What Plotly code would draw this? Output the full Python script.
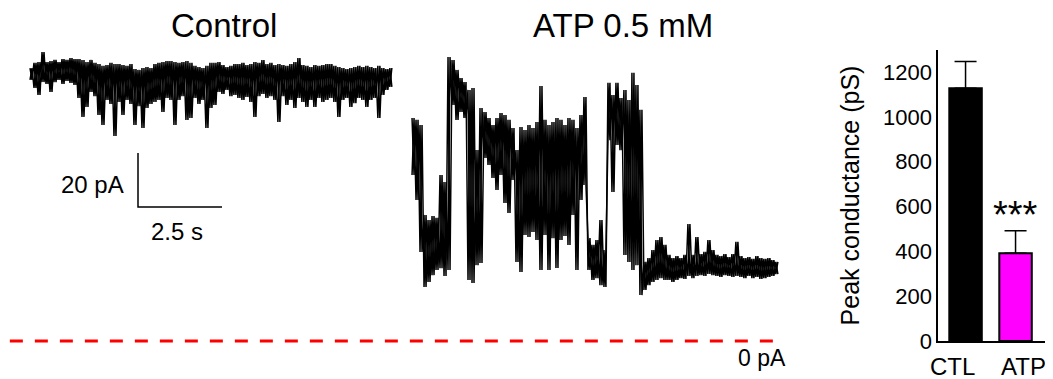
import plotly.graph_objects as go

# ---------------- data ----------------
# Current recordings summarised as an envelope: for every sample the upper
# (HI) and lower (LO) current value in pA, samples SAMPLE_DT seconds apart.
SAMPLE_DT = 0.119          # s between envelope samples
CONTROL_START = 0.0        # s
ATP_START = 11.37          # s

CONTROL_HI = [101.1, 103.0, 103.3, 107.0, 103.3, 103.7, 104.1, 103.3, 104.4, 104.1,
              104.8, 104.4, 104.4, 104.1, 103.3, 104.1, 103.0, 102.6, 101.9, 102.2,
              103.0, 102.6, 102.6, 102.2, 101.9, 102.6, 100.7, 100.4, 101.1, 101.5,
              101.1, 102.6, 103.0, 103.3, 103.7, 103.7, 103.3, 103.0, 103.3, 103.7,
              103.0, 101.9, 101.5, 101.1, 101.9, 103.0, 103.0, 103.3, 102.2, 101.5,
              101.9, 102.6, 102.6, 103.0, 102.2, 102.6, 103.3, 103.0, 104.1, 102.6,
              103.0, 102.2, 102.6, 102.2, 101.9, 102.6, 103.3, 104.8, 102.2, 101.9,
              101.5, 102.2, 101.9, 102.2, 102.6, 102.6, 101.9, 101.5, 101.1, 100.7,
              101.1, 101.5, 101.9, 101.5, 101.9, 101.5, 101.1, 101.9, 101.1, 100.7,
              101.1]
CONTROL_LO = [96.7, 93.7, 91.1, 95.9, 95.2, 92.2, 95.9, 96.7, 95.2, 96.3,
              95.6, 94.8, 90.0, 83.0, 86.7, 92.2, 90.7, 83.7, 80.0, 89.3,
              87.8, 75.9, 88.5, 83.7, 89.3, 87.8, 80.0, 87.0, 78.9, 86.3,
              87.8, 88.5, 89.3, 84.8, 90.0, 89.3, 80.0, 89.3, 90.7, 81.9,
              82.6, 90.0, 87.8, 89.3, 78.9, 86.3, 87.4, 92.2, 91.5, 93.0,
              90.7, 91.1, 90.0, 89.3, 90.4, 88.5, 83.0, 90.7, 91.5, 90.0,
              90.7, 89.3, 81.1, 90.7, 87.4, 89.3, 86.3, 90.0, 88.5, 86.7,
              89.3, 86.7, 90.0, 88.5, 89.3, 90.0, 88.5, 83.0, 89.3, 90.0,
              86.7, 88.1, 90.0, 89.3, 86.7, 89.3, 90.0, 82.6, 91.1, 93.0,
              94.1]

ATP_HI = [82.6, 81.9, 80.0, 46.7, 44.8, 46.3, 45.6, 61.5, 58.9, 105.2,
          104.1, 100.4, 97.4, 95.9, 93.0, 93.7, 70.7, 86.3, 84.8, 82.6,
          80.0, 82.6, 84.4, 83.7, 81.9, 78.9, 70.7, 79.3, 78.1, 80.0,
          78.9, 81.1, 94.4, 81.9, 80.0, 81.1, 82.6, 81.9, 80.0, 82.6,
          81.9, 78.9, 83.7, 90.4, 38.1, 35.6, 37.4, 44.8, 33.7, 95.6,
          91.1, 95.6, 90.0, 93.0, 89.3, 99.3, 94.8, 85.6, 29.3, 30.7,
          33.7, 37.4, 38.5, 35.6, 31.9, 30.7, 31.5, 30.7, 31.9, 43.3,
          31.9, 38.5, 32.2, 33.0, 37.4, 33.7, 31.9, 31.5, 32.2, 31.1,
          32.2, 36.7, 31.5, 30.7, 31.1, 30.4, 31.5, 30.7, 30.4, 30.7,
          30.0, 29.3]
ATP_LO = [61.5, 52.2, 33.0, 20.0, 21.9, 24.4, 26.3, 27.0, 24.1, 26.3,
          87.4, 81.9, 84.8, 82.6, 22.6, 21.5, 28.1, 28.9, 67.8, 65.2,
          60.4, 55.9, 61.5, 51.1, 47.4, 59.6, 29.3, 25.6, 39.3, 38.5,
          40.4, 37.4, 26.3, 39.3, 26.3, 38.1, 27.0, 37.4, 38.9, 35.6,
          46.7, 26.3, 52.2, 57.8, 26.3, 22.6, 23.3, 20.7, 20.0, 74.4,
          55.2, 72.6, 70.7, 31.9, 29.3, 26.3, 28.1, 17.0, 18.9, 20.7,
          21.9, 22.6, 23.3, 22.6, 22.6, 21.9, 22.6, 23.3, 23.0, 24.1,
          23.3, 24.1, 24.4, 24.1, 24.8, 24.4, 24.1, 23.7, 24.4, 24.1,
          23.7, 24.1, 23.7, 23.3, 24.1, 23.3, 23.7, 23.0, 23.3, 23.7,
          24.1, 24.8]

SCALE_T = 2.5      # s
SCALE_I = 20       # pA
TRACE_TITLES = ["Control", "ATP 0.5 mM"]

CATEGORIES = ["CTL", "ATP"]
PEAK_MEAN = [1127, 392]
PEAK_SEM = [120, 100]
YTICKS = [0, 200, 400, 600, 800, 1000, 1200]


def envelope_path(hi, lo, t0):
    """Min/max display of a decimated recording: two interleaved sweeps
    between the upper and lower value of every sample."""
    h = SAMPLE_DT / 2
    xs, ys = [], []
    for i, (a, b) in enumerate(zip(hi, lo)):
        t = t0 + i * SAMPLE_DT
        xs += [t, t + h]
        ys += [a, b]
    xs.append(None)
    ys.append(None)
    for i, (a, b) in enumerate(zip(hi, lo)):
        t = t0 + i * SAMPLE_DT
        xs += [t, t + h]
        ys += [b, a]
    return xs, ys


FONT = "Liberation Sans, Arial, Helvetica, sans-serif"
fig = go.Figure()

cx, cy = envelope_path(CONTROL_HI, CONTROL_LO, CONTROL_START)
ax, ay = envelope_path(ATP_HI, ATP_LO, ATP_START)
atp_end = ATP_START + len(ATP_HI) * SAMPLE_DT

for xs, ys in [(cx, cy), (ax, ay)]:
    fig.add_trace(go.Scatter(x=xs, y=ys, mode="lines", connectgaps=False,
                             line=dict(color="black", width=1.5),
                             hoverinfo="skip", xaxis="x", yaxis="y"))

# zero-current reference line
fig.add_trace(go.Scatter(x=[CONTROL_START - 0.6, atp_end - 0.1], y=[0, 0], mode="lines",
                         line=dict(color="#ff0000", width=3, dash="13px,12px"),
                         xaxis="x", yaxis="y"))

# scale bar
sb_t0, sb_i0 = 3.214, 49.6
fig.add_trace(go.Scatter(x=[sb_t0, sb_t0, sb_t0 + SCALE_T],
                         y=[sb_i0 + SCALE_I, sb_i0, sb_i0], mode="lines",
                         line=dict(color="black", width=1.5),
                         xaxis="x", yaxis="y"))

# bar chart
fig.add_trace(go.Bar(x=CATEGORIES, y=PEAK_MEAN, width=0.65,
                     marker=dict(color=["#000000", "#ff00ff"],
                                 line=dict(color="black", width=2)),
                     error_y=dict(type="data", symmetric=False, array=PEAK_SEM,
                                  arrayminus=[0, 0], color="black",
                                  thickness=1.5, width=11),
                     xaxis="x2", yaxis="y2"))

annotations = [
    dict(x=5.77, y=117.0, text=TRACE_TITLES[0], font=dict(size=33)),
    dict(x=17.65, y=117.0, text=TRACE_TITLES[1], font=dict(size=33)),
    dict(x=sb_t0 - 0.36, y=sb_i0 + 8.2, text=f"{SCALE_I} pA", xanchor="right",
         font=dict(size=24)),
    dict(x=4.375, y=sb_i0 - 9.2, text=f"{SCALE_T} s", font=dict(size=24)),
    dict(x=21.8, y=-6.3, text="0 pA", font=dict(size=23)),
]
for a in annotations:
    a.update(xref="x", yref="y", showarrow=False)
    a.setdefault("xanchor", "center")
    a["yanchor"] = "middle"
annotations.append(dict(x=CATEGORIES[1], y=PEAK_MEAN[1] + PEAK_SEM[1] + 70,
                        text="***", xref="x2", yref="y2", showarrow=False,
                        font=dict(size=38), yanchor="middle"))
# category labels under the bars
for xc, name in zip([0.9043, 0.9713], CATEGORIES):
    annotations.append(dict(x=xc, y=0.034, text=name, xref="paper", yref="paper",
                            showarrow=False, font=dict(size=24),
                            xanchor="center", yanchor="middle"))

fig.update_layout(
    width=1045, height=371,
    margin=dict(l=0, r=0, t=0, b=0, autoexpand=False),
    paper_bgcolor="white", plot_bgcolor="white",
    showlegend=False,
    font=dict(family=FONT, color="black"),
    annotations=annotations,
    xaxis=dict(domain=[0, 0.7579], range=[-0.655, 22.917], visible=False,
               automargin=False),
    yaxis=dict(domain=[0, 1], range=[-14.07, 123.33], visible=False,
               automargin=False),
    xaxis2=dict(domain=[0.8900, 0.9943], anchor="y2", range=[-0.55, 1.63],
                showline=True, linecolor="black", linewidth=1.5,
                ticks="", showticklabels=False,
                showgrid=False, zeroline=False, automargin=False),
    yaxis2=dict(domain=[0.1024, 0.8868], anchor="x2", range=[0, 1298],
                showline=True, linecolor="black", linewidth=1.5,
                ticks="", tickvals=YTICKS, tickfont=dict(size=22),
                showgrid=False, zeroline=False, automargin=False,
                title=dict(text="Peak conductance (pS)", font=dict(size=25),
                           standoff=16)),
)

fig.write_html("out.html")
